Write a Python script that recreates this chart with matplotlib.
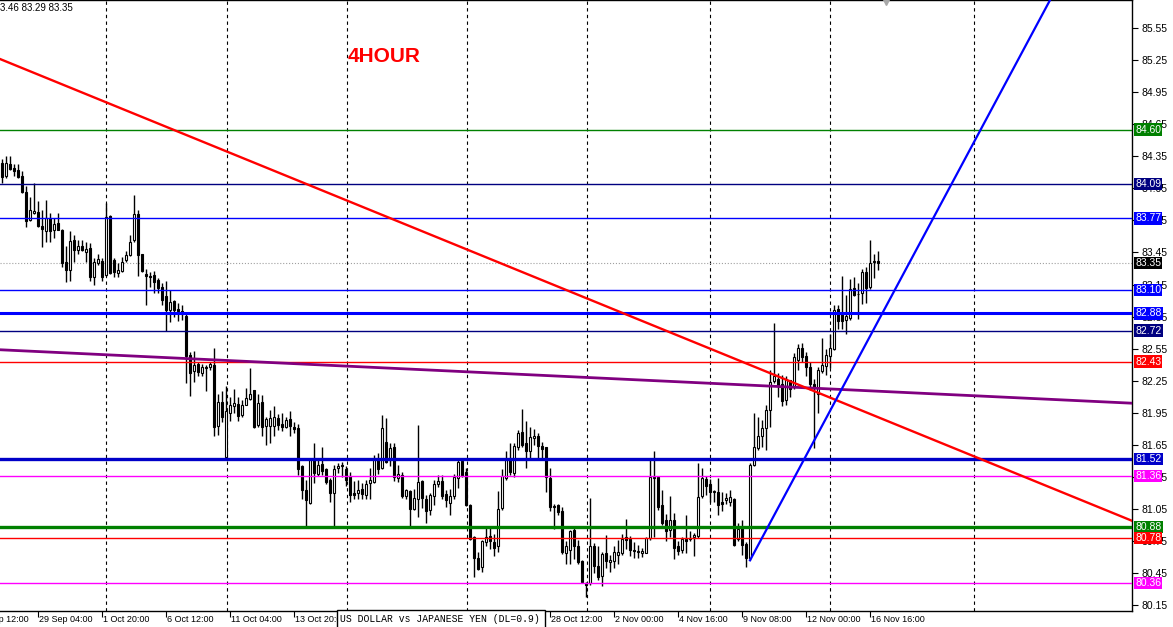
import numpy as np
import matplotlib
matplotlib.use('Agg')
from matplotlib import pyplot as plt
from matplotlib.transforms import blended_transform_factory
from matplotlib.patches import Rectangle

plt.rcParams['font.family'] = ['Liberation Sans', 'DejaVu Sans']

#%% USDJPY H4 bars
opens = [84.29, 84.17, 84.28, 84.24, 84.22, 84.17, 84.02, 83.75, 83.82, 83.83,
         83.70, 83.65, 83.77, 83.66, 83.73, 83.66, 83.36, 83.29, 83.57, 83.47,
         83.51, 83.45, 83.49, 83.22, 83.35, 83.37, 83.24, 83.79, 83.38, 83.26,
         83.28, 83.38, 83.43, 83.57, 83.81, 83.44, 83.25, 83.23, 83.24, 83.19,
         83.13, 83.04, 82.91, 83.00, 82.92, 82.90, 82.86, 82.49, 82.34, 82.41,
         82.32, 82.38, 82.38, 82.40, 81.83, 82.05, 81.54, 81.95, 82.01, 82.03,
         81.93, 82.02, 82.08, 82.16, 81.84, 82.05, 81.83, 81.83, 81.83, 81.90,
         81.85, 81.82, 81.89, 81.82, 81.81, 81.45, 81.23, 81.11, 81.52, 81.38,
         81.47, 81.42, 81.32, 81.20, 81.43, 81.46, 81.42, 81.36, 81.20, 81.20,
         81.24, 81.18, 81.29, 81.30, 81.52, 81.43, 81.68, 81.51, 81.63, 81.34,
         81.37, 81.17, 81.22, 81.05, 81.14, 81.31, 81.14, 81.04, 81.17, 81.28,
         81.31, 81.19, 81.11, 81.17, 81.34, 81.50, 81.40, 81.09, 80.79, 80.59,
         80.51, 80.74, 80.80, 80.74, 80.70, 81.06, 81.34, 81.52, 81.39, 81.63,
         81.77, 81.67, 81.59, 81.71, 81.73, 81.64, 81.63, 81.34, 81.08, 81.09,
         81.03, 80.64, 80.67, 80.85, 80.70, 80.56, 80.36, 80.36, 80.70, 80.52,
         80.42, 80.64, 80.55, 80.56, 80.62, 80.64, 80.79, 80.77, 80.67, 80.65,
         80.64, 80.64, 80.78, 81.34, 81.35, 81.09, 80.95, 80.85, 80.95, 80.70,
         80.67, 80.77, 80.78, 80.79, 80.80, 81.17, 81.33, 81.28, 81.21, 81.21,
         81.12, 81.13, 81.12, 81.14, 80.77, 80.87, 80.72, 80.59, 81.46, 81.62,
         81.73, 81.81, 81.98, 82.25, 82.27, 82.22, 82.07, 82.26, 82.20, 82.44,
         82.56, 82.48, 82.38, 82.22, 82.13, 82.34, 82.39, 82.48, 82.55, 82.92,
         82.87, 82.82, 82.84, 83.12, 83.06, 83.07, 83.27, 83.13, 83.37, 83.37]
highs = [84.32, 84.35, 84.35, 84.28, 84.28, 84.21, 84.07, 83.97, 84.10, 83.93,
         83.85, 83.94, 83.82, 83.77, 83.82, 83.67, 83.51, 83.65, 83.61, 83.57,
         83.57, 83.55, 83.54, 83.40, 83.44, 83.40, 83.91, 83.80, 83.40, 83.35,
         83.41, 83.46, 83.61, 83.99, 83.85, 83.44, 83.30, 83.27, 83.28, 83.21,
         83.16, 83.18, 83.10, 83.01, 82.98, 82.96, 82.87, 82.52, 82.53, 82.43,
         82.41, 82.40, 82.43, 82.56, 82.13, 82.15, 82.20, 82.10, 82.17, 82.10,
         82.07, 82.18, 82.37, 82.16, 82.13, 82.12, 81.91, 81.98, 82.01, 81.94,
         81.95, 81.91, 81.97, 81.86, 81.85, 81.46, 81.32, 81.53, 81.67, 81.52,
         81.63, 81.43, 81.34, 81.46, 81.48, 81.49, 81.45, 81.40, 81.31, 81.32,
         81.29, 81.32, 81.43, 81.56, 81.57, 81.93, 81.90, 81.67, 81.67, 81.46,
         81.40, 81.24, 81.23, 81.24, 81.84, 81.32, 81.18, 81.20, 81.32, 81.37,
         81.37, 81.23, 81.24, 81.38, 81.51, 81.51, 81.43, 81.10, 80.80, 80.65,
         80.76, 80.89, 80.89, 80.82, 81.22, 81.42, 81.59, 81.67, 81.67, 81.79,
         81.99, 81.87, 81.82, 81.80, 81.76, 81.68, 81.63, 81.43, 81.10, 81.10,
         81.07, 80.75, 80.85, 80.87, 80.76, 80.57, 80.37, 81.15, 80.73, 80.70,
         80.65, 80.81, 80.62, 80.70, 80.76, 80.82, 80.96, 80.80, 80.74, 80.71,
         80.69, 80.79, 81.53, 81.59, 81.35, 81.23, 81.00, 81.17, 81.01, 80.75,
         80.79, 80.99, 80.84, 80.83, 81.48, 81.43, 81.36, 81.33, 81.23, 81.34,
         81.21, 81.20, 81.23, 81.15, 80.92, 80.95, 80.74, 81.48, 81.95, 81.91,
         81.88, 82.02, 82.35, 82.79, 82.32, 82.30, 82.29, 82.26, 82.51, 82.59,
         82.60, 82.52, 82.43, 82.27, 82.38, 82.65, 82.55, 82.69, 82.96, 82.96,
         83.23, 83.05, 83.20, 83.22, 83.16, 83.30, 83.31, 83.57, 83.44, 83.46]
lows = [84.10, 84.15, 84.22, 84.17, 84.15, 84.01, 83.69, 83.74, 83.81, 83.69,
        83.50, 83.55, 83.55, 83.59, 83.66, 83.31, 83.17, 83.18, 83.36, 83.44,
        83.46, 83.36, 83.18, 83.15, 83.33, 83.18, 83.23, 83.25, 83.22, 83.22,
        83.27, 83.36, 83.42, 83.55, 83.23, 83.27, 82.96, 83.13, 83.07, 83.07,
        82.96, 82.72, 82.80, 82.85, 82.81, 82.82, 82.23, 82.11, 82.24, 82.29,
        82.29, 82.15, 82.35, 81.73, 81.74, 81.86, 81.54, 81.87, 81.95, 81.87,
        81.91, 82.02, 82.07, 81.81, 81.82, 81.73, 81.65, 81.67, 81.73, 81.79,
        81.78, 81.81, 81.73, 81.76, 81.37, 81.14, 80.89, 81.10, 81.29, 81.36,
        81.37, 81.28, 81.12, 80.89, 81.39, 81.35, 81.27, 81.12, 81.14, 81.14,
        81.14, 81.14, 81.14, 81.29, 81.38, 81.42, 81.48, 81.45, 81.31, 81.30,
        81.15, 81.14, 80.89, 81.04, 80.98, 81.06, 80.92, 80.99, 81.09, 81.26,
        81.14, 81.07, 80.99, 81.14, 81.25, 81.35, 81.08, 80.76, 80.41, 80.48,
        80.46, 80.70, 80.68, 80.61, 80.65, 81.04, 81.32, 81.37, 81.35, 81.60,
        81.63, 81.43, 81.51, 81.65, 81.52, 81.52, 81.21, 81.03, 80.86, 80.99,
        80.63, 80.54, 80.54, 80.58, 80.54, 80.36, 80.23, 80.34, 80.45, 80.39,
        80.33, 80.50, 80.46, 80.50, 80.54, 80.62, 80.68, 80.61, 80.59, 80.59,
        80.60, 80.64, 80.76, 80.79, 81.04, 80.90, 80.75, 80.79, 80.58, 80.62,
        80.64, 80.64, 80.75, 80.61, 80.78, 81.15, 81.18, 81.12, 81.12, 80.99,
        81.03, 81.10, 81.08, 80.70, 80.75, 80.62, 80.51, 80.57, 81.45, 81.60,
        81.63, 81.60, 81.82, 82.23, 82.10, 82.01, 82.02, 82.10, 82.17, 82.35,
        82.43, 82.29, 82.16, 81.62, 81.95, 82.32, 82.30, 82.37, 82.54, 82.73,
        82.73, 82.69, 82.82, 83.04, 82.83, 82.97, 82.98, 83.11, 83.21, 83.29]
closes = [84.16, 84.29, 84.23, 84.21, 84.16, 84.02, 83.74, 83.85, 83.84, 83.70,
          83.67, 83.77, 83.65, 83.72, 83.66, 83.35, 83.29, 83.56, 83.47, 83.51,
          83.47, 83.48, 83.22, 83.36, 83.39, 83.22, 83.78, 83.26, 83.27, 83.29,
          83.36, 83.43, 83.55, 83.81, 83.43, 83.28, 83.23, 83.22, 83.17, 83.12,
          83.01, 82.91, 82.99, 82.91, 82.90, 82.87, 82.48, 82.32, 82.40, 82.33,
          82.38, 82.37, 82.41, 81.82, 82.05, 81.91, 81.97, 82.02, 82.04, 81.92,
          82.02, 82.09, 82.13, 81.82, 82.04, 81.82, 81.89, 81.90, 81.91, 81.84,
          81.82, 81.88, 81.83, 81.80, 81.42, 81.23, 81.13, 81.52, 81.39, 81.46,
          81.41, 81.30, 81.20, 81.42, 81.45, 81.45, 81.32, 81.18, 81.18, 81.23,
          81.19, 81.28, 81.32, 81.52, 81.42, 81.81, 81.49, 81.62, 81.35, 81.38,
          81.17, 81.23, 81.05, 81.15, 81.30, 81.15, 81.03, 81.18, 81.28, 81.31,
          81.17, 81.13, 81.17, 81.35, 81.49, 81.36, 81.09, 80.77, 80.59, 80.49,
          80.75, 80.79, 80.75, 80.69, 81.05, 81.36, 81.52, 81.40, 81.64, 81.76,
          81.65, 81.59, 81.72, 81.73, 81.64, 81.61, 81.35, 81.07, 81.07, 81.02,
          80.65, 80.70, 80.84, 80.70, 80.55, 80.37, 80.34, 80.70, 80.52, 80.41,
          80.63, 80.56, 80.57, 80.65, 80.65, 80.77, 80.76, 80.67, 80.66, 80.66,
          80.66, 80.78, 81.35, 81.35, 81.07, 80.92, 80.84, 80.95, 80.69, 80.66,
          80.77, 80.75, 80.77, 80.81, 81.16, 81.34, 81.27, 81.21, 81.21, 81.09,
          81.10, 81.15, 81.16, 80.71, 80.86, 80.71, 80.59, 81.46, 81.63, 81.73,
          81.81, 81.98, 82.24, 82.29, 82.20, 82.06, 82.27, 82.17, 82.47, 82.56,
          82.47, 82.38, 82.22, 82.18, 82.35, 82.40, 82.49, 82.56, 82.91, 82.81,
          82.81, 82.86, 83.11, 83.05, 83.06, 83.27, 83.12, 83.35, 83.36, 83.35]

# horizontal levels drawn on the chart
level_prices = [84.60, 84.09, 83.77, 83.10, 82.88, 82.72, 82.43, 81.52, 81.36, 80.88, 80.78, 80.36]
level_colors = ['#008000', '#000080', '#0000FF', '#0000FF', '#0000FF', '#000080',
                '#FF0000', '#0000C8', '#FF00FF', '#008000', '#FF0000', '#FF00FF']
level_widths = [1, 1, 1, 1, 2.2, 1, 1, 2.4, 1, 2.4, 1, 1]
bid_price = 83.35

# trend lines (bar index, price)
red_bars, red_prices = [-0.5, 282.5], [85.26, 80.94]
purple_bars, purple_prices = [-0.5, 282.5], [82.54, 82.04]
blue_bars, blue_prices = [187, 268], [80.57, 86.23]

arrow_bar, arrow_price = 221, 85.795

price_ticks = [85.55, 85.25, 84.95, 84.65, 84.35, 84.05, 83.75, 83.45, 83.15, 82.85,
               82.55, 82.25, 81.95, 81.65, 81.35, 81.05, 80.75, 80.45, 80.15]
time_ticks = [-7, 9, 25, 41, 57, 73, 137, 153, 169, 185, 201, 217]
time_labels = ['26 Sep 12:00', '29 Sep 04:00', '1 Oct 20:00', '6 Oct 12:00', '11 Oct 04:00',
               '13 Oct 20:00', '28 Oct 12:00', '2 Nov 00:00', '4 Nov 16:00', '9 Nov 08:00',
               '12 Nov 00:00', '16 Nov 16:00']
grid_bars = [26, 56.25, 86.25, 116.25, 146.25, 177, 207, 243]

#%%
W, H = 1173, 627
fig = plt.figure(figsize=(W / 100, H / 100), dpi=100)
fig.patch.set_facecolor('white')
ax = fig.add_axes([0, 16 / H, 1132 / W, 611 / H])

for g in grid_bars:
    ax.axvline(g, color='black', ls=(0, (3, 3)), lw=0.8, zorder=1)
ax.axhline(bid_price, color='#a0a0a0', ls=':', lw=0.8, zorder=1)

idx = np.arange(len(opens))
o = np.array(opens)
c = np.array(closes)
up = c >= o
ax.vlines(idx, lows, highs, color='black', lw=1, zorder=2)
bottom = np.minimum(o, c)
height = np.maximum(np.abs(c - o), 0.004)
ax.bar(idx[up], height[up], bottom=bottom[up], width=0.62, facecolor='white',
       edgecolor='black', lw=0.8, zorder=3)
ax.bar(idx[~up], height[~up], bottom=bottom[~up], width=0.62, facecolor='black',
       edgecolor='black', lw=0.8, zorder=3)

for p, col, lw in zip(level_prices, level_colors, level_widths):
    ax.axhline(p, color=col, lw=lw, zorder=4)

ax.plot(purple_bars, purple_prices, color='#800080', lw=2, zorder=5)
ax.plot(red_bars, red_prices, color='#FF0000', lw=1.7, zorder=5)
ax.plot(blue_bars, blue_prices, color='#0000FF', lw=1.6, zorder=5)
ax.plot(arrow_bar, arrow_price, marker='v', color='#a8a8a8', ms=5, clip_on=False, zorder=5)

ax.spines['left'].set_visible(False)
for s in ['top', 'right', 'bottom']:
    ax.spines[s].set_linewidth(1)

ax.yaxis.tick_right()
ax.set_yticks(price_ticks)
ax.set_yticklabels(['%.2f' % p for p in price_ticks])
ax.tick_params(axis='y', direction='out', length=4, width=0.8, pad=2.5, labelsize=7.5)
ax.set_xticks(time_ticks)
ax.set_xticklabels([''] * len(time_ticks))
ax.tick_params(axis='x', direction='out', length=4, width=0.8)

# limits last: set_xticks would widen them otherwise
ax.set_xlim(-0.5, 282.5)
ax.set_ylim(80.096, 85.812)

tx = blended_transform_factory(ax.transData, ax.transAxes)
for t, lab in zip(time_ticks, time_labels):
    ax.text(t + 0.3, -9 / 611, lab, transform=tx, ha='left', va='center',
            fontsize=6.5, clip_on=False)

ty = blended_transform_factory(ax.transAxes, ax.transData)
box_labels = level_prices + [bid_price]
box_colors = level_colors + ['black']
for p, col in zip(box_labels, box_colors):
    ax.text(1 + 3 / 1132, p, '%.2f' % p, transform=ty, ha='left', va='center',
            fontsize=7.5, color='white', clip_on=False, zorder=10,
            bbox=dict(boxstyle='square,pad=0.12', fc=col, ec='none'))

fig.text(348 / W, 1 - 57 / H, '4HOUR', color='#FF0000', fontsize=15,
         fontweight='bold', ha='left', va='center')
fig.text(0, 1 - 8 / H, '3.46 83.29 83.35', fontsize=7, ha='left', va='center')

fig.patches.append(Rectangle((337 / W, -2 / H), 208 / W, 19 / H, transform=fig.transFigure,
                             fc='white', ec='black', lw=1, zorder=1))
fig.text(340 / W, 8 / H, 'US DOLLAR vs JAPANESE YEN (DL=0.9)', family='Liberation Mono',
         fontsize=7.0, ha='left', va='center', zorder=3)

plt.savefig('out.png', dpi=100)
